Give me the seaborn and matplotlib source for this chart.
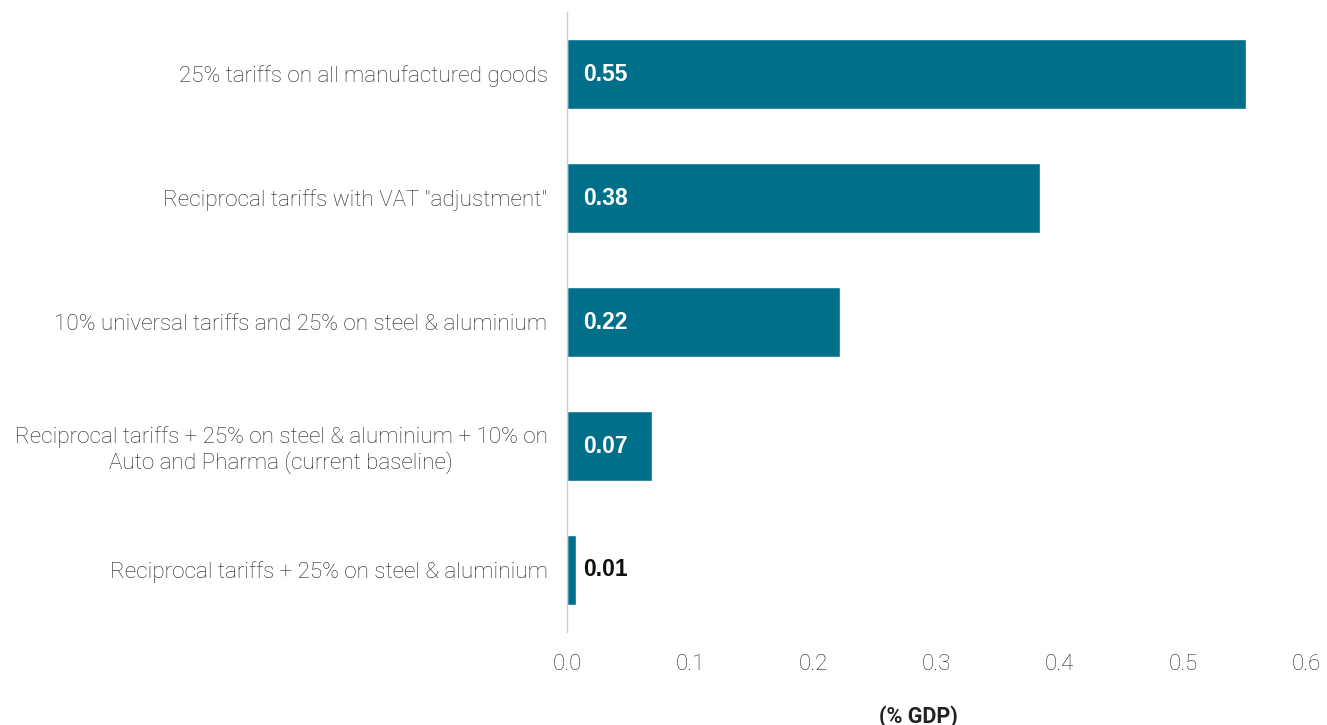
import matplotlib
matplotlib.use("Agg")
import matplotlib.pyplot as plt
import seaborn as sns
import pandas as pd

categories = [
    "25% tariffs on all manufactured goods",
    "Reciprocal tariffs with VAT \"adjustment\"",
    "10% universal tariffs and 25% on steel & aluminium",
    "Reciprocal tariffs + 25% on steel & aluminium + 10% on\nAuto and Pharma (current baseline)",
    "Reciprocal tariffs + 25% on steel & aluminium",
]
values = [0.551, 0.384, 0.222, 0.069, 0.007]
xticks = [0.0, 0.1, 0.2, 0.3, 0.4, 0.5, 0.6]

sns.set_theme(style="white")
plt.rcParams["font.family"] = ["Roboto", "DejaVu Sans"]

df = pd.DataFrame({"category": categories, "value": values})

fig = plt.figure(figsize=(13.27, 7.25), dpi=100)
ax = fig.add_axes([0.4273, 0.1283, 0.5569, 0.855])

sns.barplot(data=df, y="category", x="value", orient="h", color="#006F8A",
            saturation=1, width=0.565, ax=ax)

ax.set_xlim(0, 0.6)
ax.set_ylim(4.5, -0.5)
ax.set_xticks(xticks)
ax.set_xticklabels([f"{t:.1f}" for t in xticks], fontsize=16, color="#2a2a2a", fontweight="light")
ax.tick_params(axis="x", length=0, pad=16)
ax.tick_params(axis="y", length=0, pad=14)
for lbl in ax.get_yticklabels():
    lbl.set_fontsize(16.2)
    lbl.set_color("#222222")
    lbl.set_fontweight("light")
    lbl.set_multialignment("center")

for s in ["top", "right", "bottom"]:
    ax.spines[s].set_visible(False)
ax.spines["left"].set_color("#d0d0d0")
ax.spines["left"].set_linewidth(1)

ax.set_ylabel("")
ax.set_xlabel("(% GDP)", fontsize=15.5, fontweight="bold", color="#222222", va="center")
ax.xaxis.set_label_coords(0.475, -0.136)

for i, v in enumerate(values):
    col = "white" if v > 0.03 else "#111111"
    ax.text(0.013, i, f"{v:.2f}", va="center", ha="left", fontsize=16.5,
            fontweight="bold", color=col, family=["Liberation Sans", "DejaVu Sans"])

fig.savefig("out.png", dpi=100)
